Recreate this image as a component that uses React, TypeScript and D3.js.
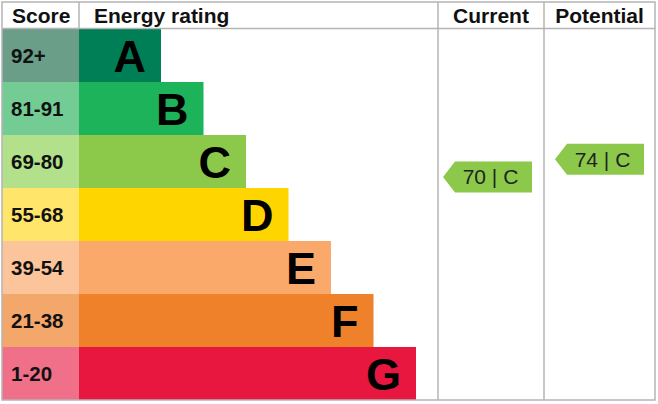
import React from 'react';
import * as d3 from 'd3';

const letters = ['A', 'B', 'C', 'D', 'E', 'F', 'G'];
const scoreLabels = ['92+', '81-91', '69-80', '55-68', '39-54', '21-38', '1-20'];
const scoreMin = [92, 81, 69, 55, 39, 21, 1];
const scoreMax = [100, 91, 80, 68, 54, 38, 20];
const barColors = ['#007f56', '#1db35a', '#8cc94a', '#ffd500', '#fba96a', '#ee8129', '#e8173f'];
const cellColors = ['#6a9e88', '#72cc94', '#b3e08a', '#ffe56a', '#fcc49b', '#f4a76b', '#ef7088'];

const columns = ['Current', 'Potential'];
const ratings = [70, 74];

const W = 658;
const H = 404;
const FONT = 'Arial, "Liberation Sans", sans-serif';
const GRID = '#b4b4b4';

export default function App() {
  const left = 2;
  const right = 655;
  const top = 2;
  const headerBottom = 28.5;
  const bottom = 400;
  const scoreRight = 79;
  const chartRight = 438;
  const currentRight = 544;

  const y = d3.scaleBand<string>().domain(letters).range([29, bottom]).padding(0);
  const barEnd = d3.scaleLinear().domain([0, letters.length - 1]).range([161, 416]);
  const colX = d3.scaleOrdinal<string, [number, number]>()
    .domain(columns)
    .range([[chartRight, currentRight], [currentRight, right]]);

  const ratingBand = (score: number) => letters.findIndex((_, i) => score >= scoreMin[i] && score <= scoreMax[i]);
  const scoreY = (score: number) => {
    const i = ratingBand(score);
    const span = scoreMax[i] - scoreMin[i] + 1;
    return (y(letters[i]) as number) + ((scoreMax[i] - score - 0.5) / span) * y.bandwidth();
  };

  const arrowW = 89;
  const arrowH = 31;
  const notch = 12;

  return (
    <svg width={W} height={H} style={{ position: 'absolute', left: 0, top: 0, background: '#fff' }}>
      {letters.map((l, i) => {
        const yy = y(l) as number;
        return (
          <g key={l}>
            <rect x={left} y={yy} width={scoreRight - left} height={y.bandwidth()} fill={cellColors[i]} />
            <rect x={scoreRight} y={yy} width={barEnd(i) - scoreRight} height={y.bandwidth()} fill={barColors[i]} />
            <text x={11} y={yy + y.bandwidth() / 2 + 7.5} fontFamily={FONT} fontWeight="bold" fontSize={20.5} fill="#111">
              {scoreLabels[i]}
            </text>
            <text x={barEnd(i) - 15} y={yy + y.bandwidth() / 2 + 16} textAnchor="end" fontFamily={FONT} fontWeight="bold" fontSize={45} fill="#000">
              {l}
            </text>
          </g>
        );
      })}

      {/* grid */}
      <rect x={left} y={top} width={right - left} height={bottom - top} fill="none" stroke={GRID} strokeWidth={1.5} />
      <line x1={left} x2={right} y1={headerBottom} y2={headerBottom} stroke={GRID} strokeWidth={1.5} />
      <line x1={scoreRight} x2={scoreRight} y1={top} y2={headerBottom} stroke={GRID} strokeWidth={1.5} />
      <line x1={chartRight} x2={chartRight} y1={top} y2={bottom} stroke={GRID} strokeWidth={1.5} />
      <line x1={currentRight} x2={currentRight} y1={top} y2={bottom} stroke={GRID} strokeWidth={1.5} />

      {/* headers */}
      <text x={12} y={23} fontFamily={FONT} fontWeight="bold" fontSize={21} fill="#111">Score</text>
      <text x={94} y={23} fontFamily={FONT} fontWeight="bold" fontSize={21} fill="#111">Energy rating</text>
      {columns.map(c => {
        const [x0, x1] = colX(c);
        return (
          <text key={c} x={(x0 + x1) / 2} y={23} textAnchor="middle" fontFamily={FONT} fontWeight="bold" fontSize={21} fill="#111">
            {c}
          </text>
        );
      })}

      {/* rating arrows */}
      {columns.map((c, k) => {
        const [x0, x1] = colX(c);
        const cx = (x0 + x1) / 2 - (k === 0 ? 3.5 : 0);
        const cy = scoreY(ratings[k]);
        const ax = cx - arrowW / 2;
        const ay = cy - arrowH / 2;
        const path = d3.path();
        path.moveTo(ax, cy);
        path.lineTo(ax + notch, ay);
        path.lineTo(ax + arrowW, ay);
        path.lineTo(ax + arrowW, ay + arrowH);
        path.lineTo(ax + notch, ay + arrowH);
        path.closePath();
        const band = ratingBand(ratings[k]);
        return (
          <g key={c}>
            <path d={path.toString()} fill={barColors[band]} />
            <text x={cx + 3} y={cy + 7.5} textAnchor="middle" fontFamily={FONT} fontSize={21} fill="#222">
              {`${ratings[k]} | ${letters[band]}`}
            </text>
          </g>
        );
      })}
    </svg>
  );
}
